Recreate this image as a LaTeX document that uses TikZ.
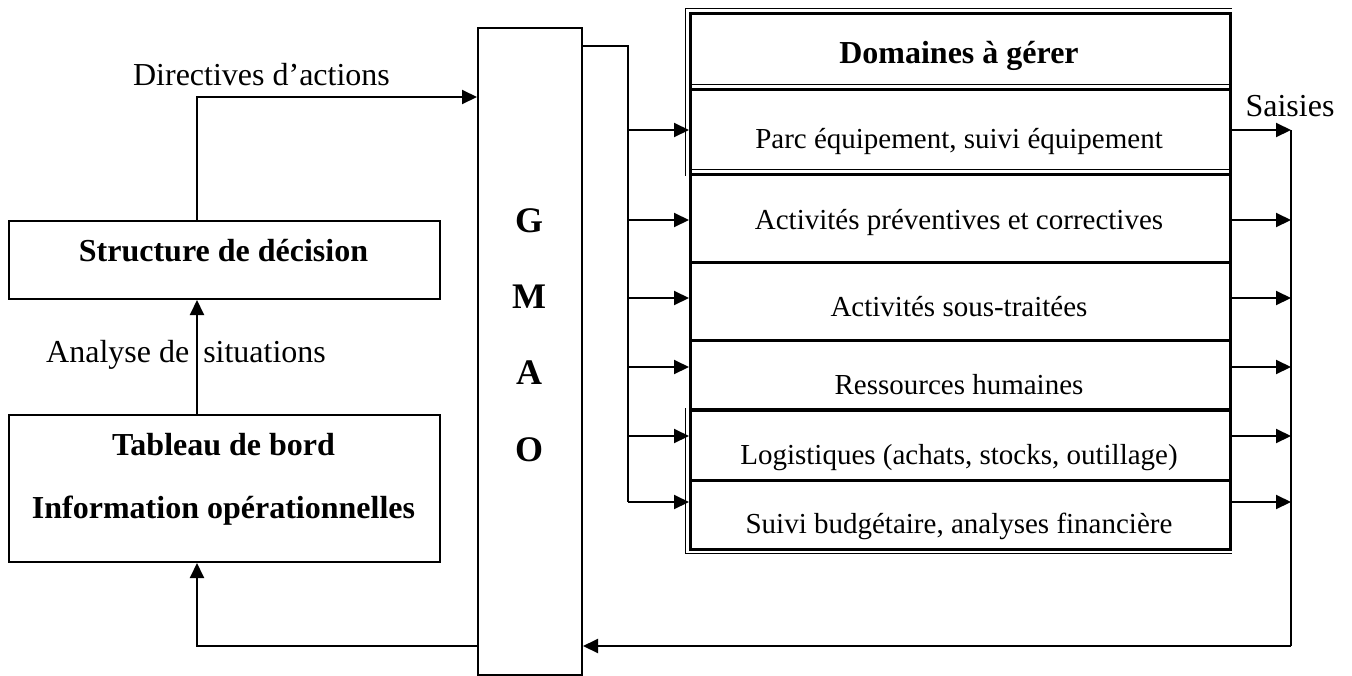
\documentclass[tikz,border=0pt]{standalone}
\usepackage{fontspec}
\setmainfont{Liberation Serif}
\usetikzlibrary{arrows.meta}
\begin{document}
\begin{tikzpicture}[x=1pt,y=-1pt,
  box/.style={draw, line width=2pt, inner sep=0pt, anchor=north west},
  rowbox/.style={draw, line width=2.6pt, inner sep=0pt, anchor=north west, minimum width=540pt},
  thinln/.style={line width=1pt},
  conn/.style={line width=2pt},
  arr/.style={line width=2pt, -{Triangle[length=15pt,width=14pt]}},
  txt/.style={inner sep=0pt, anchor=base, font=\fontsize{32}{38}\selectfont},
  bld/.style={inner sep=0pt, anchor=base, font=\fontsize{32}{38}\selectfont\bfseries},
  rowtxt/.style={inner sep=0pt, anchor=base, font=\fontsize{29}{34}\selectfont},
  gmtxt/.style={inner sep=0pt, anchor=base, font=\fontsize{36}{42}\selectfont\bfseries}]
\useasboundingbox (0,0) rectangle (1352,675);

% left boxes
\node[box, minimum width=431pt, minimum height=78pt] (sd) at (8,220) {};
\node[box, minimum width=431pt, minimum height=147pt] (tb) at (8,414) {};
\node[bld] (sdt) at (223.5,261) {Structure de décision};
\node[bld] (tbt1) at (223.5,455) {Tableau de bord};
\node[bld] (tbt2) at (223.5,518) {Information opérationnelles};

% GMAO
\node[box, minimum width=104pt, minimum height=647pt] (gm) at (477,27) {};
\node[gmtxt] (g1) at (529,232) {G};
\node[gmtxt] (g2) at (529,308) {M};
\node[gmtxt] (g3) at (529,384.5) {A};
\node[gmtxt] (g4) at (529,461) {O};

% domain table
\node[rowbox, minimum height=76pt] (rt) at (689,12) {};
\node[rowbox, minimum height=85pt] (r1) at (689,88) {};
\node[rowbox, minimum height=88pt] (r2) at (689,173) {};
\node[rowbox, minimum height=78pt] (r3) at (689,261) {};
\node[rowbox, minimum height=69pt] (r4) at (689,339) {};
\node[rowbox, minimum height=71pt] (r5) at (689,408) {};
\node[rowbox, minimum height=69pt] (r6) at (689,479) {};
% thin companion lines of the table borders
\draw[thinln] ([shift={(0,-3.2)}]rt.north east) -- ([shift={(-3.2,-3.2)}]rt.north west)
  -- ([shift={(-3.2,0)}]r1.south west);
\draw[thinln] ([shift={(-3.2,0)}]r5.north west) -- ([shift={(-3.2,3.2)}]r6.south west)
  -- ([shift={(0,3.2)}]r6.south east);
\foreach \r in {r1,r2}
  \draw[thinln] ([shift={(0,-3.2)}]\r.north west) -- ([shift={(0,-3.2)}]\r.north east);
\draw[thinln] ([shift={(0,3.2)}]r5.north west) -- ([shift={(0,3.2)}]r5.north east);

\node[bld] (rtt) at (959,63) {Domaines à gérer};
\node[rowtxt] (r1t) at (959,148) {Parc équipement, suivi équipement};
\node[rowtxt] (r2t) at (959,229) {Activités préventives et correctives};
\node[rowtxt] (r3t) at (959,316) {Activités sous-traitées};
\node[rowtxt] (r4t) at (959,394) {Ressources humaines};
\node[rowtxt] (r5t) at (959,464) {Logistiques (achats, stocks, outillage)};
\node[rowtxt] (r6t) at (959,533) {Suivi budgétaire, analyses financière};

% labels
\node[txt] (dirl) at (261.5,85) {Directives d’actions};
\node[txt, anchor=base west] (anl) at (46,362) {Analyse de\hspace{14pt}situations};
\node[txt] (sal) at (1290,116) {Saisies};

% left connectors
\coordinate (dc) at (197,97);
\draw[arr] (sd.north -| dc) -- (dc) -- (gm.west |- dc);
\draw[arr] (tb.north -| dc) -- (sd.south -| dc);
\coordinate (bl) at (197,646);
\draw[arr] (gm.west |- bl) -- (bl) -- (tb.south -| bl);

% distribution
\coordinate (dt) at (628,46);
\coordinate (a1) at (628,130);
\coordinate (a2) at (628,220);
\coordinate (a3) at (628,298);
\coordinate (a4) at (628,367);
\coordinate (a5) at (628,436);
\coordinate (a6) at (628,502);
\draw[conn] (gm.east |- dt) -- (dt) -- (a6);
\foreach \a/\r in {a1/r1,a2/r2,a3/r3,a4/r4,a5/r5,a6/r6}
  \draw[arr] (\a) -- (\r.west |- \a);

% saisies
\coordinate (b1) at (1291,130);
\coordinate (b2) at (1291,220);
\coordinate (b3) at (1291,298);
\coordinate (b4) at (1291,367);
\coordinate (b5) at (1291,436);
\coordinate (b6) at (1291,502);
\coordinate (bb) at (1291,646);
\foreach \b/\r in {b1/r1,b2/r2,b3/r3,b4/r4,b5/r5,b6/r6}
  \draw[arr] (\r.east |- \b) -- (\b);
\draw[conn] (b1) -- (bb);
\draw[arr] (bb) -- (gm.east |- bb);
\end{tikzpicture}
\end{document}
